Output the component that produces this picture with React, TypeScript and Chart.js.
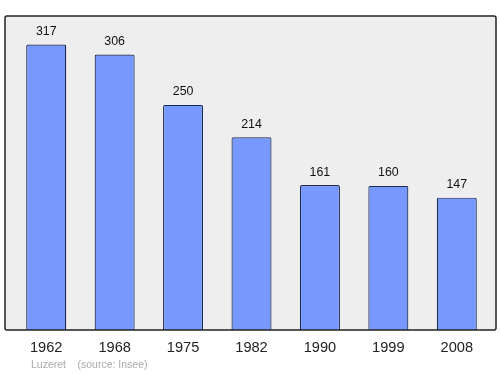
import React, { useEffect, useRef } from "react";
import { Chart, registerables } from "chart.js";

Chart.register(...registerables);

const years: string[] = ["1962", "1968", "1975", "1982", "1990", "1999", "2008"];
const population: number[] = [317, 306, 250, 214, 161, 160, 147];
const townName = "Luzeret";
const sourceText = "(source: Insee)";

const frame = { left: 5, top: 16, right: 496, bottom: 330 };

function framePath(ctx: CanvasRenderingContext2D) {
  const x = frame.left;
  const y = frame.top;
  const w = frame.right - frame.left;
  const h = frame.bottom - frame.top;
  ctx.beginPath();
  if ((ctx as any).roundRect) (ctx as any).roundRect(x, y, w, h, 2);
  else ctx.rect(x, y, w, h);
}

const backgroundPlugin = {
  id: "plotFrame",
  beforeDraw(chart: any) {
    const ctx = chart.ctx;
    ctx.save();
    ctx.fillStyle = "#ffffff";
    ctx.fillRect(0, 0, chart.width, chart.height);
    framePath(ctx);
    ctx.fillStyle = "#eeeeee";
    ctx.fill();
    ctx.restore();
  },
  afterDatasetsDraw(chart: any) {
    const ctx = chart.ctx;
    const meta = chart.getDatasetMeta(0);
    ctx.save();
    framePath(ctx);
    ctx.lineWidth = 1.5;
    ctx.strokeStyle = "#222222";
    ctx.stroke();

    ctx.font = "12.4px 'Liberation Sans', Arial, sans-serif";
    ctx.fillStyle = "#111111";
    ctx.textAlign = "center";
    ctx.textBaseline = "alphabetic";
    meta.data.forEach((bar: any, i: number) => {
      ctx.fillText(String(population[i]), bar.x, bar.y - 9.5);
    });
    ctx.font = "10.5px 'Liberation Sans', Arial, sans-serif";
    ctx.fillStyle = "#aaaaaa";
    ctx.textAlign = "left";
    ctx.textBaseline = "alphabetic";
    ctx.fillText(townName, 31, 367.5);
    ctx.fillText(sourceText, 77.5, 367.5);
    ctx.restore();
  },
};

export default function App() {
  const canvasRef = useRef<HTMLCanvasElement | null>(null);

  useEffect(() => {
    document.body.style.margin = "0";
    if (!canvasRef.current) return;
    const chart = new Chart(canvasRef.current, {
      type: "bar",
      data: {
        labels: years,
        datasets: [
          {
            data: population,
            backgroundColor: "#7799ff",
            borderColor: "#1c2a50",
            borderWidth: 1.2,
            borderRadius: 1.5,
            borderSkipped: "bottom",
            barPercentage: 0.585,
            categoryPercentage: 1,
          },
        ],
      },
      options: {
        animation: false,
        responsive: false,
        maintainAspectRatio: false,
        devicePixelRatio: 1,
        layout: { padding: { left: 12, right: 9, top: 16, bottom: 0 } },
        plugins: {
          legend: { display: false },
          tooltip: { enabled: false },
          title: { display: false },
        },
        scales: {
          x: {
            grid: { display: false },
            border: { display: false },
            afterFit(scale: any) {
              scale.height = 44;
            },
            ticks: {
              padding: 1,
              color: "#222222",
              font: { family: "'Liberation Sans', Arial, sans-serif", size: 14.6 },
              maxRotation: 0,
            },
          },
          y: {
            display: false,
            min: 0,
            max: 348.7,
          },
        },
      },
      plugins: [backgroundPlugin],
    });
    return () => chart.destroy();
  }, []);

  return (
    <div style={{ position: "absolute", left: 0, top: 0, width: 500, height: 374 }}>
      <canvas ref={canvasRef} width={500} height={374} style={{ width: 500, height: 374 }} />
    </div>
  );
}
